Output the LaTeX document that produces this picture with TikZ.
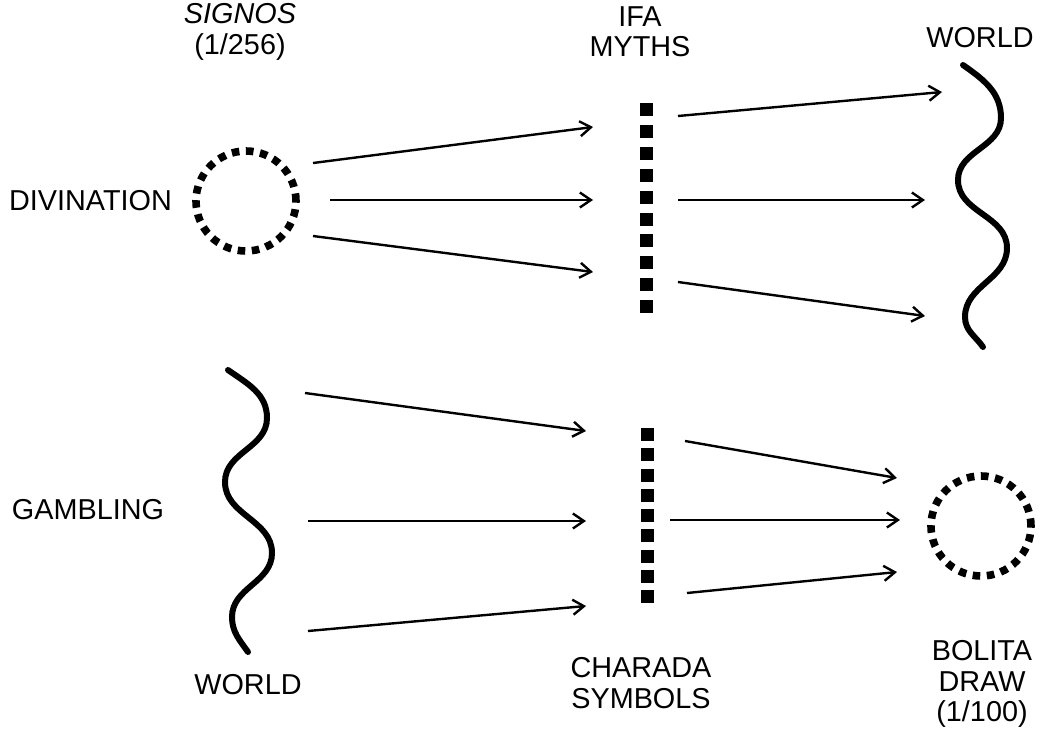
\documentclass[tikz,border=0pt]{standalone}
\usepackage{fontspec}
\setmainfont{Liberation Sans}
\usepackage{tikz}
\usetikzlibrary{arrows.meta, positioning, calc}
\tikzset{
    txt/.style={font=\fontsize{14.4}{15.2}\selectfont, align=center, inner sep=0pt},
    ring/.style={circle, draw, line width=3.8pt, dash pattern=on 3.8pt off 3.3pt, minimum size=50pt, inner sep=0pt},
    wave/.style={line width=3pt, line cap=round},
    arrow/.style={line width=1.2pt, -{Straight Barb[length=5.5pt, width=7.5pt]}}
}
\begin{document}
\begin{tikzpicture}[x=0.5pt, y=-0.5pt]
    \useasboundingbox (0,0) rectangle (1041,735);

    % Nodes
    \node (sig) [ring] at (246,201) {};
    \node (bol) [ring] at (981,526) {};
    \node (div) [txt, left=10pt of sig] {DIVINATION};
    \node (gam) [txt] at (88,510) {GAMBLING};
    \node (signos) [txt] at (240,32) {\itshape SIGNOS\\(1/256)};
    \node (ifa) [txt] at (640,32) {IFA\\MYTHS};
    \node (wtop) [txt] at (980,38) {WORLD};
    \node (wbot) [txt] at (248,685) {WORLD};
    \node (cha) [txt] at (641,683) {CHARADA\\SYMBOLS};
    \node (draw) [txt] at (982,684) {BOLITA\\DRAW\\(1/100)};

    % Bars
    \foreach \i in {0,...,9}
        \fill (640,103+21.9*\i) rectangle ++(13,13);
    \foreach \i in {0,...,8}
        \fill (641,428+20.25*\i) rectangle ++(13,13);

    % Waves
    \draw [wave] (963,65) to[out=-35,in=90] (1001,118) to[out=-90,in=90] (958,180)
        to[out=-90,in=90] (1007,248) to[out=-90,in=90] (965,317) to[out=-90,in=125] (983,347);
    \draw [wave] (228,370) to[out=-35,in=90] (267,418) to[out=-90,in=90] (225,482)
        to[out=-90,in=90] (272,553) to[out=-90,in=90] (232,617) to[out=-90,in=125] (248,652);

    % Arrow ends
    \coordinate (a1) at (313,163);  \coordinate (b1) at (593,127);
    \coordinate (a2) at (330,200);  \coordinate (b2) at (593,200);
    \coordinate (a3) at (313,236);  \coordinate (b3) at (593,272);
    \coordinate (c1) at (678,116);  \coordinate (d1) at (942,92);
    \coordinate (c2) at (678,200);  \coordinate (d2) at (925,200);
    \coordinate (c3) at (678,282);  \coordinate (d3) at (925,316);
    \coordinate (e1) at (305,393);  \coordinate (f1) at (586,431);
    \coordinate (e2) at (308,521);  \coordinate (f2) at (586,521);
    \coordinate (e3) at (308,631);  \coordinate (f3) at (586,606);
    \coordinate (g1) at (685,441);  \coordinate (h1) at (897,478);
    \coordinate (g2) at (670,520);  \coordinate (h2) at (900,520);
    \coordinate (g3) at (687,593);  \coordinate (h3) at (897,572);

    % Arrows
    \draw [arrow] (a1) -- (b1);
    \draw [arrow] (a2) -- (b2);
    \draw [arrow] (a3) -- (b3);
    \draw [arrow] (c1) -- (d1);
    \draw [arrow] (c2) -- (d2);
    \draw [arrow] (c3) -- (d3);
    \draw [arrow] (e1) -- (f1);
    \draw [arrow] (e2) -- (f2);
    \draw [arrow] (e3) -- (f3);
    \draw [arrow] (g1) -- (h1);
    \draw [arrow] (g2) -- (h2);
    \draw [arrow] (g3) -- (h3);

\end{tikzpicture}
\end{document}
